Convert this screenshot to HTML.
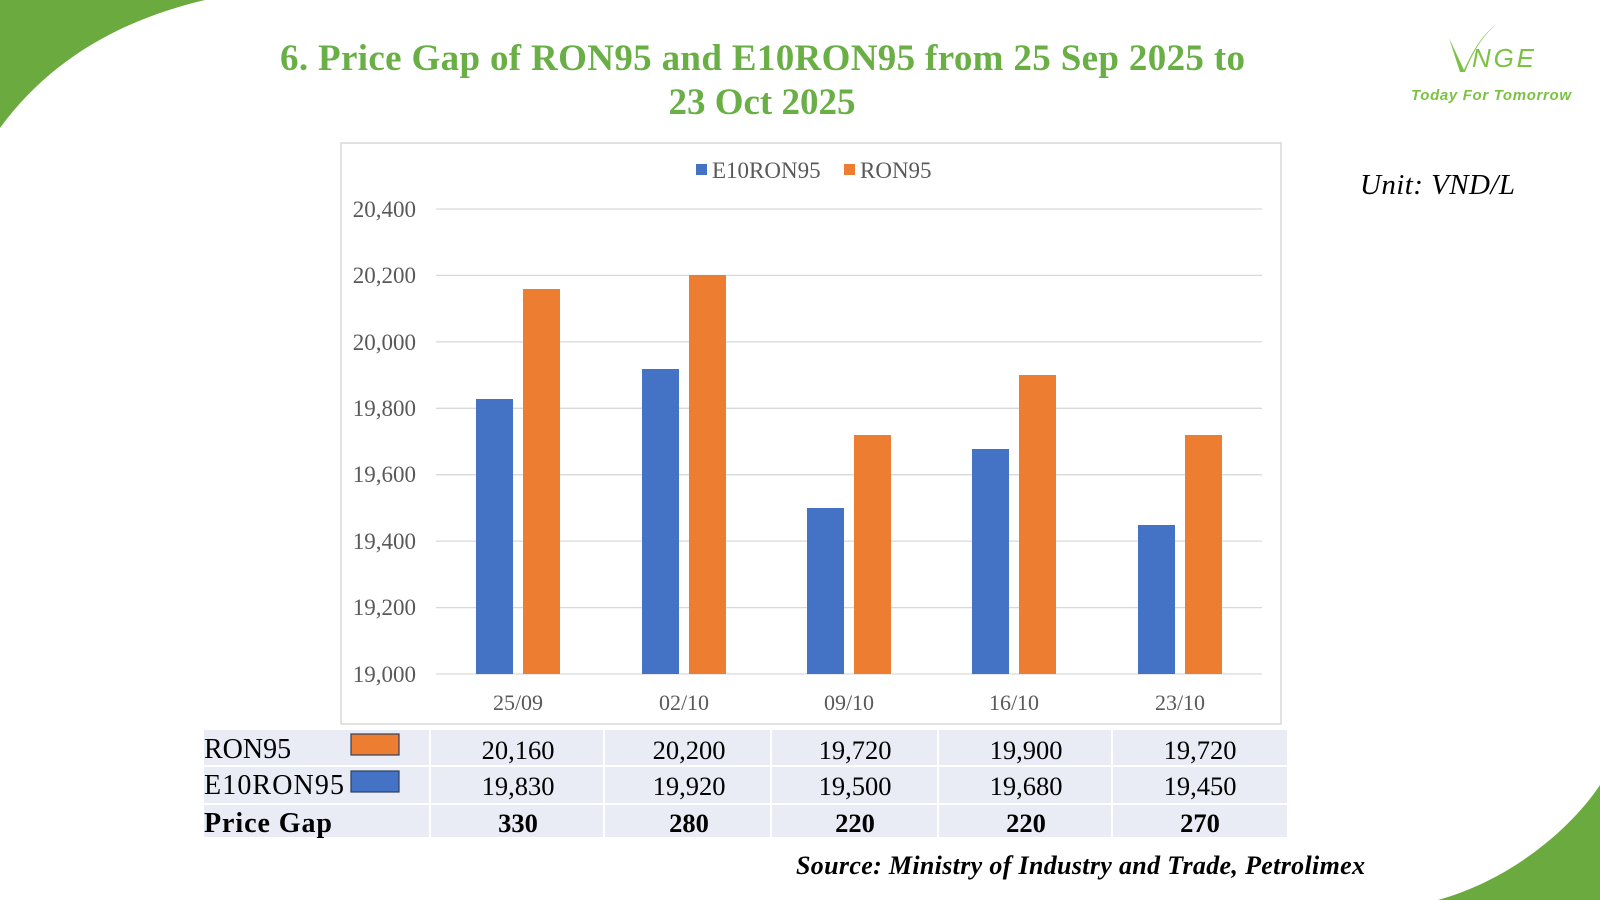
<!DOCTYPE html>
<html><head><meta charset="utf-8"><style>
body{margin:0;width:1600px;height:900px;background:#fff;position:relative;overflow:hidden;font-family:"Liberation Serif",serif}
</style></head><body>
<svg width="1600" height="900" style="position:absolute;left:0;top:0">
<path d="M0,0 L205,0 C120,20 50,60 0,128 Z" fill="#6aaa3f"/>
<path d="M1600,785 C1570,830 1510,880 1438,900 L1600,900 Z" fill="#6aaa3f"/>
<rect x="341" y="143" width="940" height="581" fill="#fff" stroke="#d9d9d9" stroke-width="1.5"/>
<g stroke="#d9d9d9" stroke-width="1.3">
<line x1="436" x2="1262" y1="209" y2="209"/><line x1="436" x2="1262" y1="275.4" y2="275.4"/>
<line x1="436" x2="1262" y1="341.9" y2="341.9"/><line x1="436" x2="1262" y1="408.3" y2="408.3"/>
<line x1="436" x2="1262" y1="474.7" y2="474.7"/><line x1="436" x2="1262" y1="541.1" y2="541.1"/>
<line x1="436" x2="1262" y1="607.6" y2="607.6"/><line x1="436" x2="1262" y1="674" y2="674"/>
</g>
<g font-family="Liberation Serif" font-size="23" fill="#595959" text-anchor="end">
<text x="416" y="217">20,400</text><text x="416" y="283">20,200</text><text x="416" y="350">20,000</text>
<text x="416" y="416">19,800</text><text x="416" y="482">19,600</text><text x="416" y="549">19,400</text>
<text x="416" y="615">19,200</text><text x="416" y="682">19,000</text>
</g>
<g font-family="Liberation Serif" font-size="22" fill="#595959" text-anchor="middle">
<text x="518" y="710">25/09</text><text x="684" y="710">02/10</text><text x="849" y="710">09/10</text><text x="1014" y="710">16/10</text><text x="1180" y="710">23/10</text>
</g>
<g fill="#4472c4">
<rect x="476" y="399" width="37" height="275"/>
<rect x="642" y="369" width="37" height="305"/>
<rect x="807" y="508" width="37" height="166"/>
<rect x="972" y="449" width="37" height="225"/>
<rect x="1138" y="525" width="37" height="149"/>
</g>
<g fill="#ed7d31">
<rect x="523" y="289" width="37" height="385"/>
<rect x="689" y="275" width="37" height="399"/>
<rect x="854" y="435" width="37" height="239"/>
<rect x="1019" y="375" width="37" height="299"/>
<rect x="1185" y="435" width="37" height="239"/>
</g>
<rect x="696" y="164" width="11" height="11" fill="#4472c4"/>
<text x="712" y="178" font-family="Liberation Serif" font-size="23" fill="#595959">E10RON95</text>
<rect x="844" y="164" width="11" height="11" fill="#ed7d31"/>
<text x="860" y="178" font-family="Liberation Serif" font-size="23" fill="#595959">RON95</text>
<g fill="#e9ebf5">
<rect x="204" y="730" width="225" height="35"/><rect x="204" y="767" width="225" height="36"/><rect x="204" y="805" width="225" height="32"/>
<rect x="431" y="730" width="172" height="35"/><rect x="431" y="767" width="172" height="36"/><rect x="431" y="805" width="172" height="32"/>
<rect x="605" y="730" width="165" height="35"/><rect x="605" y="767" width="165" height="36"/><rect x="605" y="805" width="165" height="32"/>
<rect x="772" y="730" width="165" height="35"/><rect x="772" y="767" width="165" height="36"/><rect x="772" y="805" width="165" height="32"/>
<rect x="939" y="730" width="172" height="35"/><rect x="939" y="767" width="172" height="36"/><rect x="939" y="805" width="172" height="32"/>
<rect x="1113" y="730" width="174" height="35"/><rect x="1113" y="767" width="174" height="36"/><rect x="1113" y="805" width="174" height="32"/>
</g>
<rect x="351" y="734" width="48" height="21" fill="#ed7d31" stroke="#2f3f5f" stroke-width="1.2"/>
<rect x="351" y="771" width="48" height="21" fill="#4472c4" stroke="#2f3f5f" stroke-width="1.2"/>
<g font-family="Liberation Serif" font-size="28" fill="#000">
<text x="204" y="758">RON95</text><text x="204" y="794" textLength="140">E10RON95</text>
<text x="204" y="832" font-weight="bold" textLength="128">Price Gap</text>
</g>
<g font-family="Liberation Serif" font-size="26.5" fill="#000" text-anchor="middle">
<text x="518" y="759">20,160</text><text x="689" y="759">20,200</text><text x="855" y="759">19,720</text><text x="1026" y="759">19,900</text><text x="1200" y="759">19,720</text>
<text x="518" y="795">19,830</text><text x="689" y="795">19,920</text><text x="855" y="795">19,500</text><text x="1026" y="795">19,680</text><text x="1200" y="795">19,450</text>
<g font-weight="bold"><text x="518" y="832">330</text><text x="689" y="832">280</text><text x="855" y="832">220</text><text x="1026" y="832">220</text><text x="1200" y="832">270</text></g>
</g>
<g font-family="Liberation Serif" font-weight="bold" font-size="37" fill="#6aaf46">
<text x="280" y="70" textLength="965">6. Price Gap of RON95 and E10RON95 from 25 Sep 2025 to</text>
<text x="762" y="114" text-anchor="middle">23 Oct 2025</text>
</g>
<text x="1360" y="194" font-family="Liberation Serif" font-style="italic" font-size="29" fill="#000" textLength="155">Unit: VND/L</text>
<text x="1365" y="874" text-anchor="end" font-family="Liberation Serif" font-style="italic" font-weight="bold" font-size="26" fill="#000" textLength="569">Source: Ministry of Industry and Trade, Petrolimex</text>
<path d="M1449,38 L1464,70 C1474,48 1484,33 1497,24 C1482,36 1473,52 1465,72 L1460,72 Z" fill="#7cc242"/>
<text x="1472" y="67" font-family="Liberation Sans" font-style="italic" font-size="26" fill="#7cc242" textLength="62">NGE</text>
<text x="1411" y="100" font-family="Liberation Sans" font-style="italic" font-weight="bold" font-size="15" fill="#7cc242" textLength="160">Today For Tomorrow</text>
</svg>
</body></html>
